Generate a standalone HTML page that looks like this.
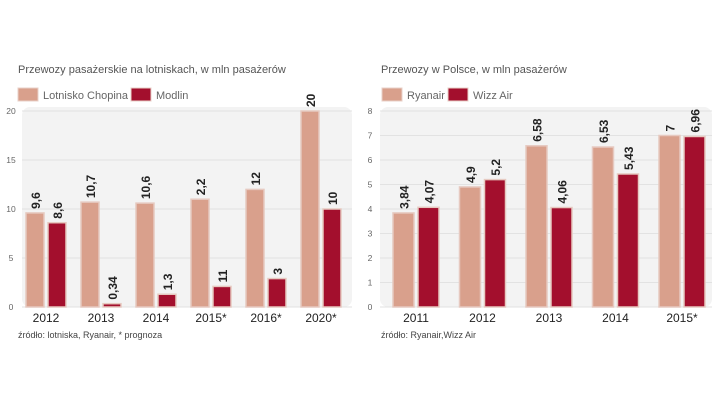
<!DOCTYPE html>
<html><head><meta charset="utf-8"><style>
body{margin:0;background:#fff;font-family:"Liberation Sans",sans-serif;}
svg text{font-family:"Liberation Sans",sans-serif;}
</style></head><body>
<svg width="720" height="405" viewBox="0 0 720 405">
<g id="c1"></g>
<g id="c2"></g>
</svg>
<script>
const cats1=["2012","2013","2014","2015*","2016*","2020*"];
const chopina=[9.6,10.7,10.6,11,12,20];
const modlin=[8.6,0.34,1.3,2.1,2.9,10];
const chopinaLabels=["9,6","10,7","10,6","2,2","12","20"];
const modlinLabels=["8,6","0,34","1,3","11","3","10"];
const ticks1=[0,5,10,15,20];
const cats2=["2011","2012","2013","2014","2015*"];
const ryanair=[3.84,4.9,6.58,6.53,7];
const wizz=[4.07,5.2,4.06,5.43,6.96];
const ryanLabels=["3,84","4,9","6,58","6,53","7"];
const wizzLabels=["4,07","5,2","4,06","5,43","6,96"];
const ticks2=[0,1,2,3,4,5,6,7,8];
const NS="http://www.w3.org/2000/svg";
const C1="#d9a08c",C2="#a30f2d";
function mk(p,t,a){const e=document.createElementNS(NS,t);for(const k in a)e.setAttribute(k,a[k]);p.appendChild(e);return e;}
function draw(g,o){
  const y=v=>o.y0-(v/o.max)*(o.y0-o.y1);
  const bg=mk(g,'rect',{x:o.px,y:o.y1-4,width:o.pw,height:o.y0-o.y1+4,rx:8,fill:'#f3f3f3'});
  
  const t=mk(g,'text',{x:o.tx,y:73,'font-size':11,fill:'#555'});t.textContent=o.title;
  
  o.legend.forEach((l,i)=>{
    const r=mk(g,'rect',{x:l.x,y:88,width:20,height:13,fill:i?C2:C1,stroke:'#e8d0c8'});
    
    const tt=mk(g,'text',{x:l.x+25,y:99,'font-size':11,fill:'#666'});tt.textContent=l.n;
    
  });
  o.ticks.forEach(v=>{
    const ln=mk(g,'line',{x1:o.px,x2:o.px+o.pw,y1:y(v),y2:y(v),stroke:'#e2e2e2'});
    
    const tt=mk(g,'text',{x:o.lx,y:y(v)+3,'font-size':8.5,fill:'#666','text-anchor':'middle'});tt.textContent=v;
    
  });
  o.cats.forEach((c,i)=>{
    const cx=o.c0+i*o.step;
    [[o.a,o.al,C1,-1],[o.b,o.bl,C2,1]].forEach(([vals,labs,col,s])=>{
      const x=s<0?cx-o.gap/2-o.bw:cx+o.gap/2;
      const r=mk(g,'rect',{x:x,y:y(vals[i]),width:o.bw,height:o.y0-y(vals[i]),fill:col,stroke:'#e6c9c0','stroke-width':1.5});
      
      const lx=x+o.bw/2+5,ly=y(vals[i])-4;
      const tt=mk(g,'text',{x:lx,y:ly,'font-size':12,'font-weight':'bold',fill:'#222',transform:`rotate(-90 ${lx} ${ly})`});
      tt.textContent=labs[i];
    });
    const tt=mk(g,'text',{x:cx,y:322,'font-size':12,fill:'#222','text-anchor':'middle'});tt.textContent=c;
    
  });
  const s=mk(g,'text',{x:o.tx,y:338,'font-size':9,fill:'#444'});s.textContent=o.src;
  
}
draw(document.getElementById('c1'),{y0:307,y1:111,max:20,px:22,pw:330,lx:11,tx:18,title:"Przewozy pasażerskie na lotniskach, w mln pasażerów",
 legend:[{x:18,n:"Lotnisko Chopina"},{x:131,n:"Modlin"}],ticks:ticks1,cats:cats1,a:chopina,b:modlin,al:chopinaLabels,bl:modlinLabels,
 c0:46,step:55,bw:18,gap:4,src:"źródło: lotniska, Ryanair, * prognoza"});
draw(document.getElementById('c2'),{y0:307,y1:111,max:8,px:380,pw:332,lx:370,tx:381,title:"Przewozy w Polsce, w mln pasażerów",
 legend:[{x:382,n:"Ryanair"},{x:448,n:"Wizz Air"}],ticks:ticks2,cats:cats2,a:ryanair,b:wizz,al:ryanLabels,bl:wizzLabels,
 c0:416,step:66.5,bw:21,gap:4,src:"źródło: Ryanair,Wizz Air"});
</script>
</body></html>
